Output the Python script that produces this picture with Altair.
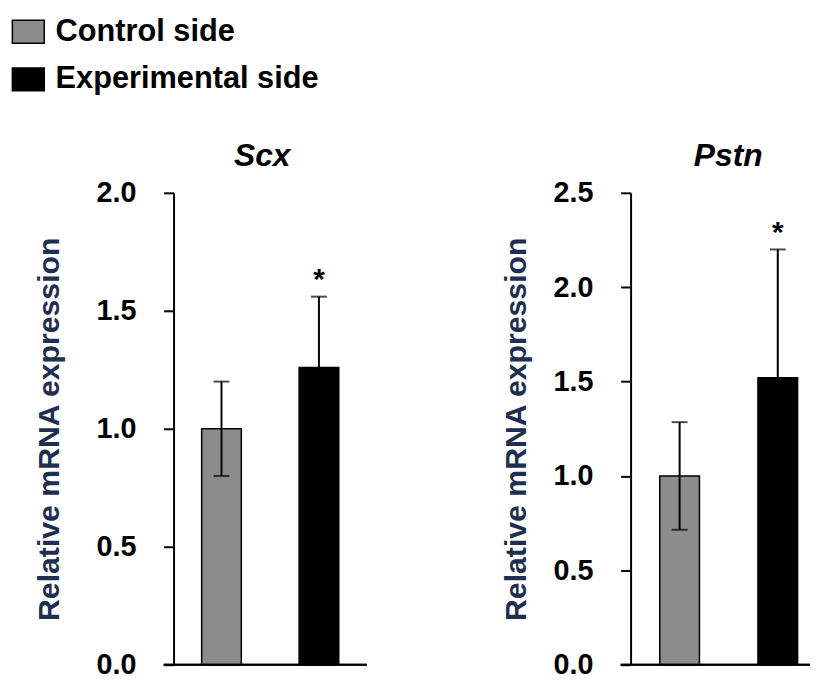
import altair as alt
import pandas as pd

# ---- data ----
genes = ["Scx", "Pstn"]
groups = ["Control side", "Experimental side"]
control_mean = [1.00, 1.00]
experimental_mean = [1.26, 1.52]
control_err = [0.20, 0.285]
experimental_err = [0.30, 0.68]
significance = ["", "*"]          # marker above control / experimental bar
y_max = [2.0, 2.5]
y_ticks = [[0.0, 0.5, 1.0, 1.5, 2.0], [0.0, 0.5, 1.0, 1.5, 2.0, 2.5]]
colors = ["#8c8c8c", "#000000"]

rows = []
for i, g in enumerate(genes):
    for j, grp in enumerate(groups):
        m = [control_mean, experimental_mean][j][i]
        e = [control_err, experimental_err][j][i]
        rows.append({"gene": g, "group": grp, "mean": m, "lo": m - e, "hi": m + e,
                     "sig": significance[j]})
df = pd.DataFrame(rows)

FONT = "Liberation Sans"
H = 476


def panel(i, width, pad_inner, pad_outer, align, title_pad, title_dx):
    d = df[df["gene"] == genes[i]]
    xs = alt.X("group:N", axis=None,
               scale=alt.Scale(domain=groups, paddingInner=pad_inner,
                               paddingOuter=pad_outer, align=align))
    ys = alt.Scale(domain=[0, y_max[i]], nice=False)
    yaxis = alt.Axis(values=y_ticks[i], format=".1f", grid=False,
                     domainColor="black", domainWidth=2, tickColor="black",
                     tickWidth=2, tickSize=10, labelFont=FONT, labelFontSize=29,
                     labelFontWeight="bold", labelColor="black", labelPadding=28,
                     title="Relative mRNA expression", titleFont=FONT,
                     titleFontSize=30.5, titleFontWeight="bold", titleColor="#1f2f4f",
                     titlePadding=title_pad)
    base = alt.Chart(d)
    bars = base.mark_bar(stroke="black", strokeWidth=1.5).encode(
        x=xs,
        y=alt.Y("mean:Q", scale=ys, axis=yaxis),
        color=alt.Color("group:N", title=None,
                        scale=alt.Scale(domain=groups, range=colors),
                        legend=alt.Legend(symbolType="M-1.4,-1H1.4V1H-1.4Z",
                                          symbolSize=529, symbolStrokeColor="black",
                                          symbolStrokeWidth=1.5, symbolOpacity=1,
                                          labelFont=FONT, labelFontSize=31,
                                          labelFontWeight="bold", labelColor="black",
                                          labelOffset=12, labelLimit=0,
                                          rowPadding=16, direction="vertical",
                                          orient="none", legendX=-162, legendY=-178)),
    )
    err = base.mark_rule(color="black", strokeWidth=2).encode(x=xs, y="lo:Q", y2="hi:Q")
    cap_hi = base.mark_tick(color="black", size=16, thickness=2).encode(x=xs, y="hi:Q")
    cap_lo = base.mark_tick(color="black", size=16, thickness=2).encode(x=xs, y="lo:Q")
    star = base.mark_text(font=FONT, fontSize=30, fontWeight="bold", color="black",
                          baseline="alphabetic", dy=-8).encode(x=xs, y="hi:Q", text="sig:N")
    axis_line = base.mark_rule(color="black", strokeWidth=2).encode(
        x=alt.value(-10), x2=alt.value(width), y=alt.value(H))
    return alt.layer(bars, err, cap_hi, cap_lo, star, axis_line).properties(
        width=width, height=H,
        title=alt.TitleParams(genes[i], font=FONT, fontSize=32, fontWeight="bold",
                              fontStyle="italic", color="black", frame="group",
                              baseline="alphabetic", offset=-19, anchor="middle",
                              dx=title_dx))


left = panel(0, 195, 0.593, 0.2885, 0.5, 32, -8)
right = panel(1, 181, 0.596, 0.212, 0.702, 22, 8)

chart = alt.hconcat(left, right, spacing=134).properties(
    padding={"left": 5, "top": 5.5, "right": 0, "bottom": 0}
).configure_view(stroke=None)

chart.save("out.html", embed_options={"renderer": "svg", "actions": False})
